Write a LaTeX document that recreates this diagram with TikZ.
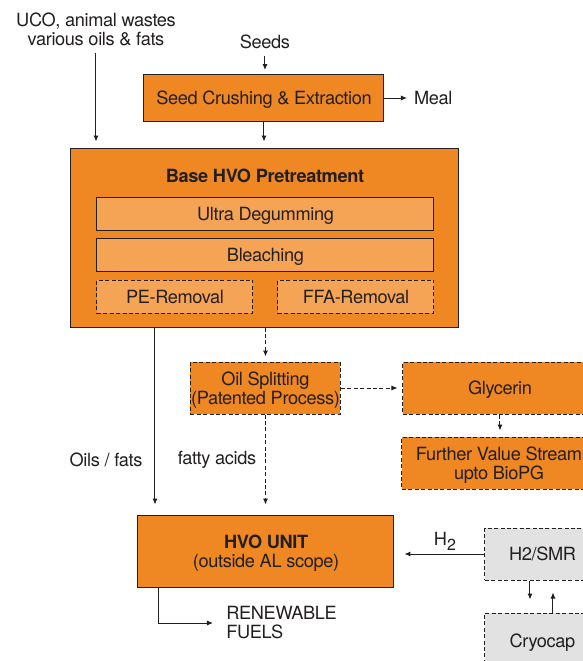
\documentclass[tikz,border=0pt]{standalone}
\usepackage{fontspec}
\setmainfont{TeX Gyre Heros}[LetterSpace=-2]
\usetikzlibrary{
  arrows.meta,   % Latex 箭头
  positioning,   % 节点相对定位
  calc           % 坐标计算
}

\definecolor{hvoorange}{RGB}{239,136,35}
\definecolor{paleorange}{RGB}{245,164,86}
\definecolor{smrgrey}{RGB}{226,226,226}
\definecolor{inkdark}{RGB}{35,31,32}

\begin{document}
\begin{tikzpicture}[x=0.5pt, y=-0.5pt, >={Latex[length=3pt,width=2.6pt]},
  every node/.style={font=\fontsize{9.1}{9.5}\selectfont, text=inkdark},
  unitbox/.style={draw=inkdark, line width=0.5pt, fill=hvoorange, inner sep=0pt, align=center, text depth=0pt},
  stepbox/.style={unitbox, fill=paleorange},
  optbox/.style={unitbox, dash pattern=on 2pt off 1.2pt},
  titletext/.style={font=\fontsize{9.1}{9.5}\selectfont\bfseries},
  flow/.style={->, draw=inkdark, line width=0.5pt},
  optflow/.style={flow, dash pattern=on 2pt off 1.2pt}] % 以像素为单位，y 轴向下

  \useasboundingbox (0,0) rectangle (583,661);

  % =============== 原料输入 ===============
  \node[align=center] (uco) at (96,29) {UCO, animal wastes\\various oils \& fats};
  \node (seeds) at (265,42) {Seeds};
  \node[unitbox, minimum width=120pt, minimum height=23.5pt] (seed) at (264,98) {Seed Crushing \& Extraction};
  \node[anchor=west] (meal) at (407,98) {Meal};

  % =============== 预处理主框 ===============
  \node[unitbox, minimum width=194pt, minimum height=89.5pt] (pre) at (265,237.5) {};
  \node[titletext] (pretitle) at (265,176) {Base HVO Pretreatment};
  \node[stepbox, minimum width=168.5pt, minimum height=16.5pt] (degum) at (265.5,213.5) {Ultra Degumming};
  \node[stepbox, minimum width=168.5pt, minimum height=16.5pt] (bleach) at (265.5,254.5) {Bleaching};
  \node[stepbox, dash pattern=on 2pt off 1.2pt, minimum width=78pt, minimum height=16.5pt] (peremove) at (175,296.5) {PE-Removal};
  \node[stepbox, dash pattern=on 2pt off 1.2pt, minimum width=78pt, minimum height=16.5pt] (ffaremove) at (356,296.5) {FFA-Removal};

  % =============== 油脂裂解支路 ===============
  \node[optbox, minimum width=75pt, minimum height=26pt] (split) at (265.5,388) {Oil Splitting\\(Patented Process)};
  \node[optbox, minimum width=97pt, minimum height=26pt] (gly) at (500,388) {Glycerin};
  \node[optbox, minimum width=97pt, minimum height=26pt] (further) at (499,463) {Further Value Stream\\upto BioPG};

  % =============== HVO 装置与氢气 ===============
  \node[unitbox, minimum width=128pt, minimum height=36pt] (hvo) at (266,551) {\textbf{HVO UNIT}\\(outside AL scope)};
  \node[optbox, fill=smrgrey, minimum width=57.5pt, minimum height=26pt] (smr) at (542.5,554) {H2/SMR};
  \node[optbox, fill=smrgrey, minimum width=57.5pt, minimum height=28pt] (cryo) at (542.5,641) {Cryocap};

  % 连线上的文字
  \node (oilslbl) at (106,460) {Oils / fats};
  \node (fattylbl) at (217,460) {fatty acids};
  \node (h2lbl) at (445,541) {H\raisebox{-0.5ex}{\fontsize{8}{8}\selectfont 2}};
  \node[anchor=west, align=left, inner xsep=0pt] (fuels) at (226,623) {RENEWABLE\\FUELS};

  \coordinate (oilsx) at (155,0);
  \coordinate (fuelx) at (159,0);
  \coordinate (smrdn) at (530,0);
  \coordinate (smrup) at (553,0);

  % =============== 物流箭头 ===============
  \draw[flow, shorten >=3pt] (uco.south) -- (uco.south |- pre.north);
  \draw[flow, shorten >=2pt] (seeds) -- (seeds |- seed.north);
  \draw[flow] (seed.east) -- (seed.east -| meal.west);
  \draw[flow, shorten >=3pt] (seed) -- (seed |- pre.north);
  \draw[flow, shorten >=5pt] (pre.south -| oilsx) -- (hvo.north -| oilsx);
  \draw[optflow, shorten >=2.5pt] (pre.south -| split.north) -- (split.north);
  \draw[optflow, shorten >=2.5pt] (split.east) -- (gly.west);
  \draw[optflow, shorten >=3pt] (gly.south) -- (gly.south |- further.north);
  \draw[optflow, shorten >=5pt] (split.south) -- (split.south |- hvo.north);
  \draw[flow, shorten >=5pt] (smr.west) -- (smr.west -| hvo.east);
  \draw[flow, shorten >=6.5pt] (smr.south -| smrdn) -- (cryo.north -| smrdn);
  \draw[flow, shorten >=6pt] (cryo.north -| smrup) -- (smr.south -| smrup);
  \draw[flow, shorten >=6.5pt] (hvo.south -| fuelx) |- (fuels.west);

\end{tikzpicture}
\end{document}
